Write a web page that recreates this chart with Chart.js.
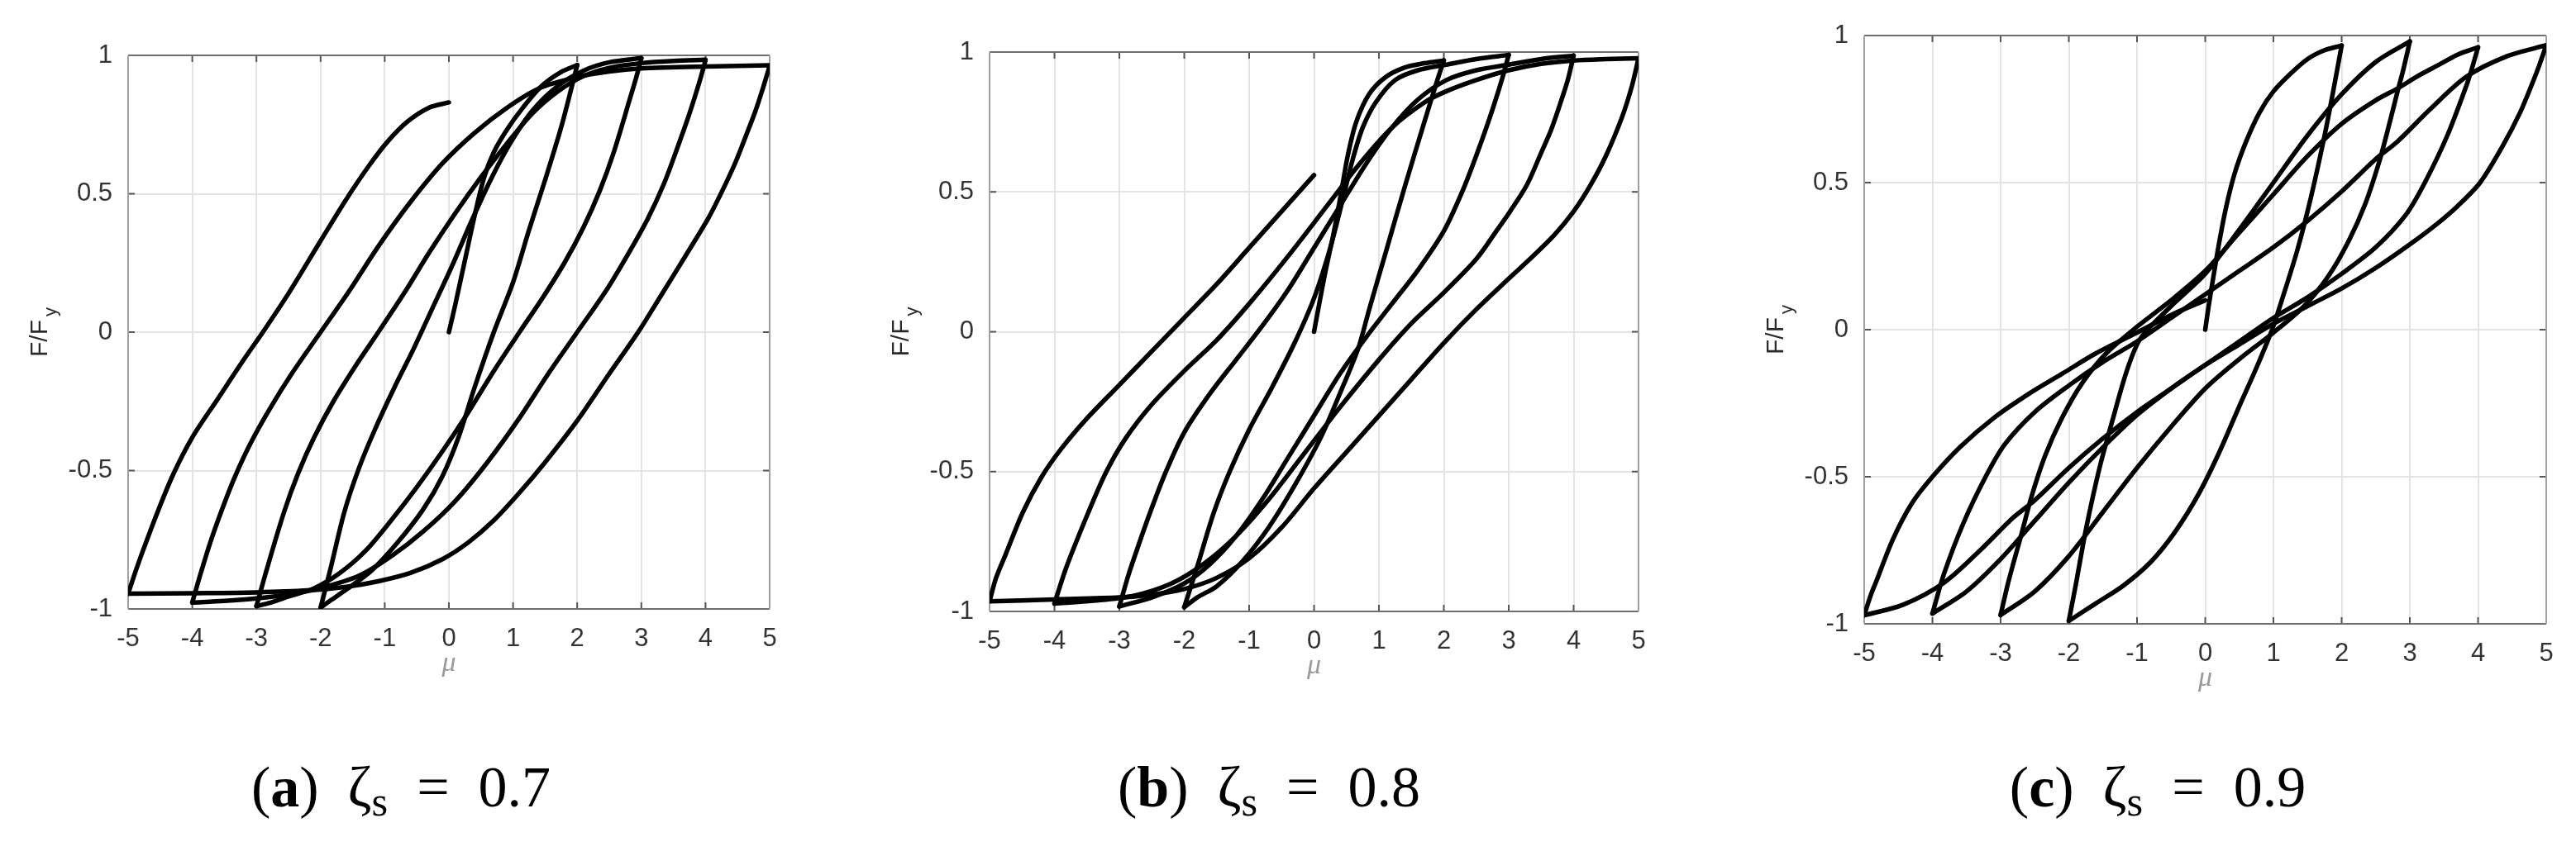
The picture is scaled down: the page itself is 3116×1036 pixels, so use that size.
<!DOCTYPE html>
<html>
<head>
<meta charset="utf-8">
<script src="https://cdn.jsdelivr.net/npm/chart.js@4.4.1/dist/chart.umd.min.js"></script>
<style>
  html, body { margin:0; padding:0; background:#fff; }
  body { width:3116px; height:1036px; position:relative; overflow:hidden; }
  canvas { position:absolute; top:0; }
  .cap { position:absolute; top:918px; transform:translateX(-50%); white-space:nowrap;
         font-family:"Liberation Serif","DejaVu Serif",serif; font-size:70px; line-height:1; color:#000; }
  .cap sub { font-size:0.72em; vertical-align:-0.22em; line-height:0; }
</style>
</head>
<body>
<canvas id="ca" width="1040" height="1036" style="left:0px"></canvas>
<canvas id="cb" width="1060" height="1036" style="left:1040px"></canvas>
<canvas id="cc" width="1016" height="1036" style="left:2100px"></canvas>
<div class="cap" style="left:485px">(<b>a</b>)&nbsp; ζ<sub>s</sub> &nbsp;=&nbsp; 0.7</div>
<div class="cap" style="left:1535px">(<b>b</b>)&nbsp; ζ<sub>s</sub> &nbsp;=&nbsp; 0.8</div>
<div class="cap" style="left:2610px">(<b>c</b>)&nbsp; ζ<sub>s</sub> &nbsp;=&nbsp; 0.9</div>
<script>
// ---------- axis ticks ----------
const X_TICKS = [-5, -4, -3, -2, -1, 0, 1, 2, 3, 4, 5];
const X_LABELS = ['-5', '-4', '-3', '-2', '-1', '0', '1', '2', '3', '4', '5'];
const Y_TICKS = [-1, -0.5, 0, 0.5, 1];
const Y_LABELS = ['-1', '-0.5', '0', '0.5', '1'];
const X_TITLE = 'μ';
const Y_TITLE = 'F/F';
const Y_TITLE_SUB = 'y';

// ---------- panel (a) zeta_s = 0.7 : branches [mu, F/Fy] ----------
const a0 = [[0,0],[0.1,0.1],[0.25,0.26],[0.4,0.42],[0.55,0.56],[0.7,0.65],[0.9,0.73],[1.15,0.81],[1.45,0.89],[1.75,0.94],[2,0.965]];
const a1 = [[2,0.965],[1.93,0.9],[1.75,0.74],[1.5,0.55],[1.25,0.37],[1.0,0.18],[0.7,0.0],[0.4,-0.2],[0.15,-0.38],[-0.1,-0.52],[-0.4,-0.64],[-0.8,-0.76],[-1.2,-0.86],[-1.6,-0.93],[-1.85,-0.97],[-2,-0.995]];
const a2 = [[-2,-0.995],[-1.84,-0.85],[-1.63,-0.65],[-1.4,-0.49],[-1.15,-0.35],[-0.85,-0.2],[-0.55,-0.06],[-0.25,0.09],[0.05,0.24],[0.35,0.4],[0.65,0.55],[0.95,0.68],[1.3,0.8],[1.7,0.89],[2.1,0.945],[2.5,0.975],[3,0.99]];
const a3 = [[3,0.99],[2.92,0.92],[2.83,0.85],[2.57,0.65],[2.35,0.51],[2.1,0.38],[1.8,0.25],[1.45,0.12],[1.1,0.0],[0.7,-0.14],[0.3,-0.29],[-0.1,-0.43],[-0.5,-0.56],[-0.9,-0.68],[-1.3,-0.79],[-1.7,-0.87],[-2.1,-0.925],[-2.5,-0.955],[-2.75,-0.975],[-3,-0.99]];
const a4 = [[-3,-0.99],[-2.83,-0.85],[-2.57,-0.65],[-2.35,-0.51],[-2.1,-0.38],[-1.8,-0.25],[-1.45,-0.12],[-1.1,0.0],[-0.7,0.14],[-0.3,0.29],[0.1,0.43],[0.5,0.56],[0.9,0.68],[1.3,0.79],[1.7,0.87],[2.1,0.925],[2.5,0.955],[3,0.972],[3.5,0.98],[4,0.984]];
const a5 = [[4,0.982],[3.9,0.9],[3.75,0.79],[3.56,0.665],[3.35,0.535],[3.1,0.41],[2.8,0.285],[2.45,0.15],[2.0,0.0],[1.55,-0.15],[1.1,-0.31],[0.6,-0.47],[0.1,-0.61],[-0.4,-0.72],[-0.9,-0.81],[-1.4,-0.88],[-2,-0.925],[-2.5,-0.948],[-3,-0.962],[-3.5,-0.971],[-4,-0.977]];
const a6 = [[-4,-0.977],[-3.88,-0.88],[-3.72,-0.76],[-3.56,-0.655],[-3.35,-0.53],[-3.1,-0.405],[-2.8,-0.28],[-2.45,-0.15],[-2.0,0.0],[-1.55,0.15],[-1.1,0.31],[-0.6,0.47],[-0.1,0.61],[0.4,0.72],[0.9,0.81],[1.4,0.88],[2,0.922],[2.5,0.942],[3,0.953],[4,0.96],[5,0.964]];
const a7 = [[5,0.962],[4.9,0.885],[4.78,0.8],[4.64,0.715],[4.47,0.615],[4.26,0.51],[4.04,0.41],[3.7,0.28],[3.3,0.13],[2.95,0.0],[2.5,-0.15],[2.0,-0.32],[1.5,-0.47],[1.1,-0.58],[0.7,-0.68],[0.3,-0.76],[-0.1,-0.82],[-0.6,-0.87],[-1.1,-0.9],[-1.6,-0.92],[-2.2,-0.933],[-3,-0.94],[-4,-0.943],[-5,-0.945]];
const a8 = [[-5,-0.945],[-4.9,-0.875],[-4.77,-0.79],[-4.55,-0.655],[-4.3,-0.515],[-4.0,-0.38],[-3.6,-0.24],[-3.2,-0.1],[-2.9,0.0],[-2.5,0.14],[-2.0,0.33],[-1.6,0.48],[-1.25,0.6],[-0.95,0.69],[-0.65,0.76],[-0.32,0.81],[0,0.83]];

// ---------- panel (b) zeta_s = 0.8 ----------
const b0 = [[0,0],[0.08,0.1],[0.18,0.22],[0.3,0.35],[0.42,0.5],[0.52,0.63],[0.65,0.75],[0.85,0.85],[1.1,0.91],[1.4,0.945],[1.7,0.96],[2,0.97]];
const b1 = [[2,0.97],[1.9,0.9],[1.7,0.75],[1.4,0.52],[1.1,0.28],[0.85,0.08],[0.68,-0.06],[0.4,-0.22],[0.1,-0.38],[-0.3,-0.55],[-0.7,-0.7],[-1.1,-0.82],[-1.5,-0.91],[-1.8,-0.95],[-2,-0.985]];
const b2 = [[-2,-0.985],[-1.8,-0.84],[-1.55,-0.65],[-1.3,-0.5],[-1.0,-0.35],[-0.65,-0.2],[-0.3,-0.04],[0.0,0.12],[0.25,0.3],[0.45,0.48],[0.6,0.62],[0.75,0.73],[0.95,0.82],[1.25,0.9],[1.6,0.935],[2.04,0.955],[2.5,0.975],[3,0.99]];
const b3 = [[3,0.99],[2.93,0.93],[2.84,0.86],[2.7,0.76],[2.54,0.655],[2.3,0.51],[2.0,0.36],[1.6,0.22],[1.2,0.1],[0.8,-0.02],[0.4,-0.15],[0,-0.3],[-0.4,-0.45],[-0.8,-0.6],[-1.2,-0.73],[-1.6,-0.83],[-2.0,-0.9],[-2.5,-0.95],[-3,-0.982]];
const b4 = [[-3,-0.982],[-2.86,-0.87],[-2.7,-0.76],[-2.54,-0.655],[-2.3,-0.51],[-2.0,-0.36],[-1.6,-0.22],[-1.2,-0.1],[-0.8,0.02],[-0.4,0.15],[0,0.3],[0.4,0.45],[0.8,0.6],[1.2,0.73],[1.6,0.83],[2.04,0.9],[2.5,0.935],[3.0,0.955],[3.5,0.975],[4,0.987]];
const b5 = [[4,0.987],[3.91,0.9],[3.8,0.82],[3.65,0.72],[3.5,0.64],[3.28,0.525],[3.02,0.43],[2.81,0.36],[2.5,0.26],[2.0,0.14],[1.5,0.03],[1.0,-0.1],[0.4,-0.27],[-0.2,-0.45],[-0.7,-0.6],[-1.2,-0.73],[-1.7,-0.83],[-2.2,-0.9],[-2.8,-0.945],[-3.4,-0.962],[-4,-0.972]];
const b6 = [[-4,-0.972],[-3.82,-0.844],[-3.48,-0.647],[-3.2,-0.5],[-2.9,-0.38],[-2.5,-0.26],[-2.0,-0.14],[-1.5,-0.03],[-1.0,0.1],[-0.4,0.27],[0.2,0.45],[0.7,0.6],[1.2,0.73],[1.7,0.82],[2.04,0.86],[2.5,0.9],[3.0,0.935],[3.5,0.958],[4.0,0.97],[4.5,0.975],[5,0.978]];
const b7 = [[5,0.978],[4.9,0.88],[4.75,0.77],[4.5,0.63],[4.25,0.52],[4.0,0.43],[3.7,0.345],[3.35,0.265],[3.0,0.19],[2.5,0.08],[2.0,-0.04],[1.5,-0.17],[1.0,-0.3],[0.5,-0.43],[0,-0.56],[-0.5,-0.7],[-1.0,-0.81],[-1.5,-0.88],[-2.0,-0.92],[-2.5,-0.94],[-3,-0.95],[-4,-0.957],[-5,-0.964]];
const b8 = [[-5,-0.964],[-4.9,-0.88],[-4.75,-0.795],[-4.49,-0.647],[-4.2,-0.52],[-3.9,-0.42],[-3.5,-0.31],[-3.0,-0.19],[-2.5,-0.07],[-2.0,0.05],[-1.5,0.17],[-1.0,0.3],[-0.5,0.43],[0,0.56]];

// ---------- panel (c) zeta_s = 0.9 ----------
const c0 = [[0,0],[0.05,0.08],[0.12,0.18],[0.2,0.29],[0.3,0.41],[0.43,0.53],[0.6,0.64],[0.8,0.74],[1.0,0.81],[1.25,0.87],[1.5,0.92],[1.75,0.95],[2,0.966]];
const c1 = [[2,0.966],[1.9,0.84],[1.75,0.66],[1.55,0.45],[1.35,0.27],[1.15,0.12],[0.98,0.0],[0.75,-0.13],[0.5,-0.26],[0.2,-0.42],[-0.1,-0.56],[-0.45,-0.69],[-0.8,-0.79],[-1.2,-0.87],[-1.6,-0.93],[-2,-0.99]];
const c2 = [[-2,-0.99],[-1.9,-0.87],[-1.75,-0.68],[-1.55,-0.47],[-1.35,-0.3],[-1.15,-0.14],[-0.95,-0.03],[-0.5,0.08],[0,0.19],[0.5,0.34],[1.0,0.5],[1.5,0.66],[2.0,0.8],[2.5,0.91],[3,0.98]];
const c3 = [[3,0.98],[2.9,0.88],[2.82,0.81],[2.7,0.7],[2.55,0.57],[2.35,0.43],[2.1,0.3],[1.8,0.18],[1.45,0.08],[1.0,-0.01],[0.5,-0.1],[0,-0.2],[-0.5,-0.33],[-1,-0.47],[-1.5,-0.62],[-2,-0.77],[-2.5,-0.89],[-3,-0.97]];
const c4 = [[-3,-0.97],[-2.9,-0.87],[-2.82,-0.8],[-2.7,-0.7],[-2.55,-0.57],[-2.35,-0.43],[-2.1,-0.3],[-1.8,-0.18],[-1.45,-0.08],[-1.0,0.01],[-0.5,0.1],[0,0.2],[0.5,0.33],[1,0.46],[1.5,0.59],[2,0.7],[2.5,0.78],[2.82,0.82],[3.1,0.86],[3.42,0.9],[3.7,0.935],[4,0.96]];
const c5 = [[4,0.96],[3.9,0.88],[3.83,0.83],[3.55,0.66],[3.22,0.5],[2.94,0.39],[2.5,0.28],[2.0,0.19],[1.5,0.11],[1.0,0.04],[0.5,-0.04],[0,-0.12],[-0.5,-0.2],[-1,-0.29],[-1.5,-0.4],[-2,-0.52],[-2.5,-0.65],[-3,-0.78],[-3.5,-0.89],[-4,-0.965]];
const c6 = [[-4,-0.965],[-3.83,-0.83],[-3.55,-0.66],[-3.22,-0.5],[-2.94,-0.39],[-2.5,-0.28],[-2.0,-0.19],[-1.5,-0.11],[-1.0,-0.04],[-0.5,0.04],[0,0.12],[0.5,0.2],[1,0.28],[1.5,0.37],[2,0.47],[2.5,0.58],[2.82,0.64],[3.3,0.75],[3.83,0.86],[4.43,0.93],[5,0.967]];
const c7 = [[5,0.967],[4.9,0.9],[4.8,0.84],[4.62,0.74],[4.35,0.62],[4.03,0.5],[3.7,0.42],[3.4,0.36],[3.0,0.29],[2.5,0.21],[2.0,0.14],[1.5,0.08],[1.0,0.02],[0.5,-0.05],[0,-0.12],[-0.5,-0.2],[-1,-0.28],[-1.5,-0.37],[-2,-0.47],[-2.5,-0.58],[-2.82,-0.64],[-3.3,-0.75],[-3.83,-0.86],[-4.43,-0.935],[-5,-0.971]];
const c8 = [[-5,-0.971],[-4.9,-0.9],[-4.82,-0.854],[-4.58,-0.713],[-4.3,-0.59],[-4.0,-0.5],[-3.6,-0.4],[-3.1,-0.3],[-2.6,-0.22],[-2.1,-0.15],[-1.6,-0.08],[-1.0,-0.01],[-0.5,0.05],[0,0.1]];

// ---------- layout (pixel boxes of the plot areas, relative to each canvas) ----------
const BOXES = {
  ca: { l: 155, r: 931, t: 67, b: 737 },
  cb: { l: 157, r: 942, t: 63, b: 740 },
  cc: { l: 155, r: 980, t: 43, b: 755 }
};

const frame = {
  id: 'frame',
  beforeDatasetsDraw(chart) {
    const { ctx, chartArea: a, scales } = chart;
    ctx.save();
    ctx.lineWidth = 2;
    ctx.strokeStyle = '#555';
    X_TICKS.forEach(v => {
      const x = scales.x.getPixelForValue(v);
      ctx.beginPath(); ctx.moveTo(x, a.bottom); ctx.lineTo(x, a.bottom - 8); ctx.stroke();
      ctx.beginPath(); ctx.moveTo(x, a.top); ctx.lineTo(x, a.top + 8); ctx.stroke();
    });
    Y_TICKS.forEach(v => {
      const y = scales.y.getPixelForValue(v);
      ctx.beginPath(); ctx.moveTo(a.left, y); ctx.lineTo(a.left + 8, y); ctx.stroke();
      ctx.beginPath(); ctx.moveTo(a.right, y); ctx.lineTo(a.right - 8, y); ctx.stroke();
    });
    ctx.strokeStyle = '#6e6e6e';
    ctx.beginPath(); ctx.moveTo(a.left, a.top); ctx.lineTo(a.right, a.top); ctx.stroke();
    ctx.beginPath(); ctx.moveTo(a.left, a.bottom); ctx.lineTo(a.right, a.bottom); ctx.stroke();
    ctx.strokeStyle = '#a0a0a0';
    ctx.beginPath(); ctx.moveTo(a.left, a.top); ctx.lineTo(a.left, a.bottom); ctx.stroke();
    ctx.beginPath(); ctx.moveTo(a.right, a.top); ctx.lineTo(a.right, a.bottom); ctx.stroke();
    ctx.restore();
  },
  afterDraw(chart) {
    const { ctx, chartArea: a, scales } = chart;
    ctx.save();
    ctx.fillStyle = '#9a9a9a';
    ctx.font = 'italic 34px "Liberation Serif"';
    ctx.textAlign = 'center';
    ctx.textBaseline = 'middle';
    ctx.fillText(X_TITLE, (a.left + a.right) / 2, a.bottom + 66);
    const yc = scales.y.getPixelForValue(0);
    ctx.translate(a.left - 106, yc);
    ctx.rotate(-Math.PI / 2);
    ctx.fillStyle = '#2a2a2a';
    ctx.font = '30px "Liberation Sans"';
    const w1 = ctx.measureText(Y_TITLE).width;
    ctx.font = '22px "Liberation Sans"';
    const w2 = ctx.measureText(Y_TITLE_SUB).width;
    const x0 = -(w1 + w2 + 4) / 2;
    ctx.textAlign = 'left';
    ctx.textBaseline = 'middle';
    ctx.font = '30px "Liberation Sans"';
    ctx.fillText(Y_TITLE, x0, 0);
    ctx.font = '22px "Liberation Sans"';
    ctx.fillText(Y_TITLE_SUB, x0 + w1 + 4, 13);
    ctx.restore();
  }
};

function makeChart(id, branches) {
  const canvas = document.getElementById(id);
  const box = BOXES[id];
  const W = canvas.width, H = canvas.height;
  const tickFont = { family: 'Liberation Sans', size: 31 };
  const chart = new Chart(canvas, {
    type: 'scatter',
    data: {
      datasets: branches.map(b => ({
        data: b.map(p => ({ x: p[0], y: p[1] })),
        showLine: true,
        borderColor: '#000',
        borderWidth: 5.5,
        pointRadius: 0,
        tension: 0.3,
        fill: false,
        borderCapStyle: 'round',
        borderJoinStyle: 'round'
      }))
    },
    options: {
      responsive: false,
      animation: false,
      devicePixelRatio: 1,
      events: [],
      layout: { padding: { left: box.l - 100, right: W - box.r, top: box.t, bottom: H - box.b - 100 } },
      plugins: { legend: { display: false }, tooltip: { enabled: false }, title: { display: false } },
      scales: {
        x: {
          type: 'linear', min: -5, max: 5,
          afterBuildTicks: s => { s.ticks = X_TICKS.map(v => ({ value: v })); },
          afterFit: s => { s.height = 100; },
          grid: { color: '#e4e4e4', lineWidth: 2, drawTicks: false },
          border: { display: false },
          ticks: { padding: 18, color: '#333', font: tickFont, maxRotation: 0, autoSkip: false,
                   callback: v => X_LABELS[X_TICKS.indexOf(v)] }
        },
        y: {
          type: 'linear', min: -1, max: 1,
          afterBuildTicks: s => { s.ticks = Y_TICKS.map(v => ({ value: v })); },
          afterFit: s => { s.width = 100; },
          grid: { color: '#e4e4e4', lineWidth: 2, drawTicks: false },
          border: { display: false },
          ticks: { padding: 19, color: '#333', font: tickFont, autoSkip: false,
                   callback: v => Y_LABELS[Y_TICKS.indexOf(v)] }
        }
      }
    },
    plugins: [frame]
  });
  for (let i = 0; i < 4; i++) {
    const a = chart.chartArea;
    const p = chart.options.layout.padding;
    p.left += box.l - a.left;
    p.right += a.right - box.r;
    p.top += box.t - a.top;
    p.bottom += a.bottom - box.b;
    chart.update('none');
  }
  return chart;
}

makeChart('ca', [a0, a1, a2, a3, a4, a5, a6, a7, a8]);
makeChart('cb', [b0, b1, b2, b3, b4, b5, b6, b7, b8]);
makeChart('cc', [c0, c1, c2, c3, c4, c5, c6, c7, c8]);
</script>
</body>
</html>
